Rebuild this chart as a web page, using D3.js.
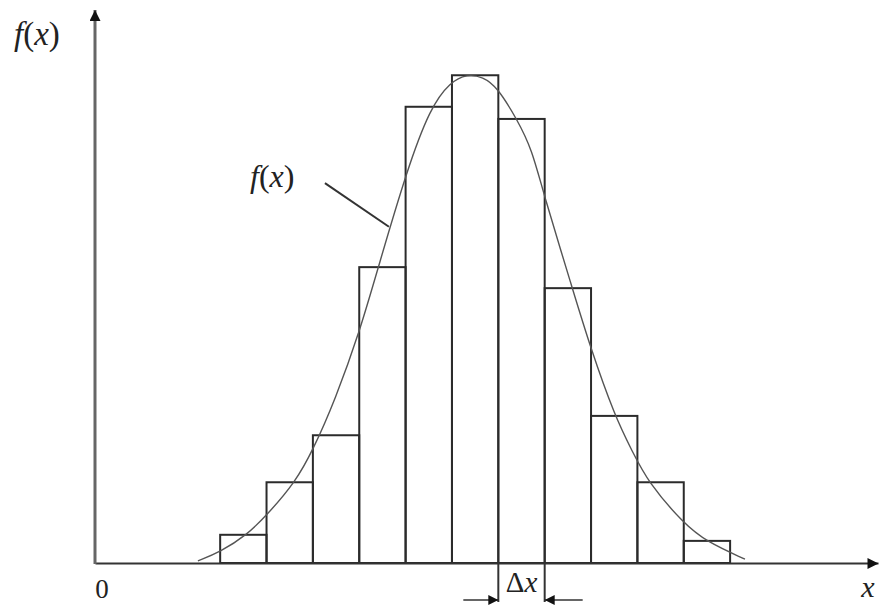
<!DOCTYPE html>
<html>
<head>
<meta charset="utf-8">
<script src="https://cdn.jsdelivr.net/npm/d3@7"></script>
<style>
  body { margin: 0; background: #fff; }
</style>
</head>
<body>
<svg id="chart" width="879" height="609"></svg>
<script>
// histogram bins: left edge index and height (percent of axis height)
const binEdges = [0, 1, 2, 3, 4, 5, 6, 7, 8, 9, 10, 11];
const binHeights = [5.1, 14.6, 23.1, 53.5, 82.5, 88.2, 80.3, 49.7, 26.6, 14.6, 4.0];

// density curve
const curveX = [-0.48, 0.0, 0.58, 1.01, 1.62, 2.0, 2.48, 3.02, 3.41, 4.03, 4.53, 4.96, 5.33,
                5.67, 5.97, 6.40, 6.73, 6.97, 7.59, 7.98, 8.52, 8.89, 9.23, 9.99, 10.50, 11.32];
const curveY = [0.4, 2.0, 5.1, 8.7, 14.6, 20.4, 29.5, 42.1, 53.5, 71.1, 82.3, 87.0, 88.4,
                87.9, 86.1, 80.3, 74.7, 66.9, 49.9, 39.1, 26.4, 20.2, 14.6, 7.2, 3.8, 0.7];

// leader line for the f(x) label
const leaderX = [2.26, 3.64];
const leaderY = [68.7, 60.8];

const svg = d3.select("#chart")
    .style("font-family", "\"DejaVu Serif\", \"Liberation Serif\", serif");

const x = d3.scaleLinear().domain([-2.7, 14.19]).range([95, 878]);
const y = d3.scaleLinear().domain([0, 100]).range([563, 10]);

const defs = svg.append("defs");
defs.append("marker")
    .attr("id", "arrowY")
    .attr("viewBox", "0 0 10 10")
    .attr("refX", 10).attr("refY", 5)
    .attr("markerUnits", "userSpaceOnUse")
    .attr("markerWidth", 18).attr("markerHeight", 11)
    .attr("orient", "auto")
    .append("path").attr("d", "M0,0 L10,5 L0,10 Z").attr("fill", "#111");
defs.append("marker")
    .attr("id", "arrowS")
    .attr("viewBox", "0 0 10 10")
    .attr("refX", 10).attr("refY", 5)
    .attr("markerUnits", "userSpaceOnUse")
    .attr("markerWidth", 17).attr("markerHeight", 10)
    .attr("orient", "auto")
    .append("path").attr("d", "M0,0 L10,5 L0,10 Z").attr("fill", "#111");

// bars
svg.selectAll("rect.bin")
    .data(binHeights)
    .enter().append("rect")
    .attr("class", "bin")
    .attr("x", (d, i) => x(binEdges[i]))
    .attr("y", d => y(d))
    .attr("width", (d, i) => x(binEdges[i + 1]) - x(binEdges[i]))
    .attr("height", d => y(0) - y(d))
    .attr("fill", "none")
    .attr("stroke", "#2b2b2b")
    .attr("stroke-width", 2);

// curve
const pts = curveX.map((v, i) => [v, curveY[i]]);
svg.append("path")
    .datum(pts)
    .attr("d", d3.line().x(d => x(d[0])).y(d => y(d[1])).curve(d3.curveBasis))
    .attr("fill", "none")
    .attr("stroke", "#555")
    .attr("stroke-width", 1.4);

// axes (no ticks, arrow at the end)
const xAxis = svg.append("g")
    .attr("transform", `translate(0,${y(0)})`)
    .call(d3.axisBottom(x).tickValues([]).tickSizeOuter(0));
xAxis.select(".domain")
    .attr("stroke", "#333").attr("stroke-width", 2.2)
    .attr("marker-end", "url(#arrowY)");

const yAxis = svg.append("g")
    .attr("transform", `translate(${x(-2.7)},0)`)
    .call(d3.axisLeft(y).tickValues([]).tickSizeOuter(0));
yAxis.select(".domain")
    .attr("stroke", "#666").attr("stroke-width", 3)
    .attr("d", `M0,${y(0) + 1}V${y(100)}`)
    .attr("marker-end", "url(#arrowY)");
// axis groups set their own font-family; labels are appended to svg directly

// leader line
svg.append("line")
    .attr("x1", x(leaderX[0])).attr("y1", y(leaderY[0]))
    .attr("x2", x(leaderX[1])).attr("y2", y(leaderY[1]))
    .attr("stroke", "#333").attr("stroke-width", 2);

// Δx dimension marks
const dx0 = binEdges[6], dx1 = binEdges[7];
const dimY = 600;
[dx0, dx1].forEach(v => {
  svg.append("line")
    .attr("x1", x(v)).attr("x2", x(v))
    .attr("y1", y(0)).attr("y2", dimY + 2)
    .attr("stroke", "#333").attr("stroke-width", 2);
});
svg.append("line")
    .attr("x1", x(dx0) - 35).attr("x2", x(dx0))
    .attr("y1", dimY).attr("y2", dimY)
    .attr("stroke", "#333").attr("stroke-width", 1.6)
    .attr("marker-end", "url(#arrowS)");
svg.append("line")
    .attr("x1", x(dx1) + 38).attr("x2", x(dx1))
    .attr("y1", dimY).attr("y2", dimY)
    .attr("stroke", "#333").attr("stroke-width", 1.6)
    .attr("marker-end", "url(#arrowS)");

// labels
const serif = "\"Liberation Serif\", \"DejaVu Serif\", serif";
function fx(tx, ty, size) {
  const t = svg.append("text").attr("x", tx).attr("y", ty)
      .style("font-family", serif)
      .attr("font-size", size).attr("fill", "#222");
  t.append("tspan").attr("font-style", "italic").text("f");
  t.append("tspan").text("(");
  t.append("tspan").attr("font-style", "italic").text("x");
  t.append("tspan").text(")");
}
fx(14, 45, 33);
fx(250, 187, 32);

svg.append("text").attr("x", 102).attr("y", 598).attr("fill", "#222")
    .style("font-family", serif)
    .attr("text-anchor", "middle").attr("font-size", 27).text("0");
svg.append("text").attr("x", 868).attr("y", 597).attr("fill", "#222")
    .style("font-family", serif)
    .attr("text-anchor", "middle").attr("font-size", 30)
    .attr("font-style", "italic").text("x");

const dl = svg.append("text")
    .attr("x", (x(dx0) + x(dx1)) / 2).attr("y", 592)
    .style("font-family", serif)
    .attr("text-anchor", "middle").attr("font-size", 29).attr("fill", "#222");
dl.append("tspan").text("Δ");
dl.append("tspan").attr("font-style", "italic").text("x");
</script>
</body>
</html>
